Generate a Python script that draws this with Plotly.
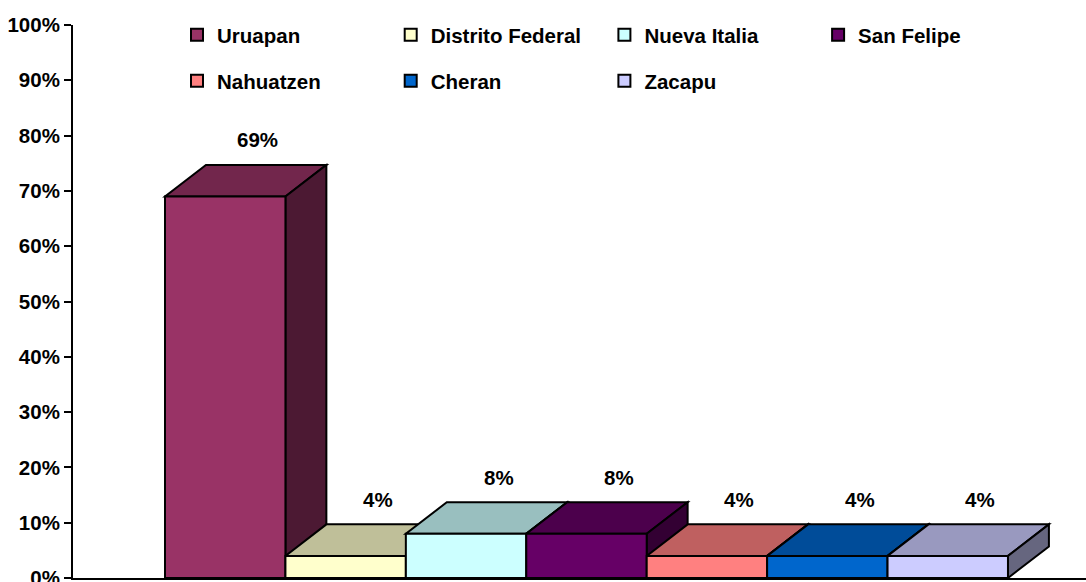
import plotly.graph_objects as go

# ---- data -------------------------------------------------------------
categories = ["Uruapan", "Distrito Federal", "Nueva Italia", "San Felipe",
              "Nahuatzen", "Cheran", "Zacapu"]
values = [69, 4, 8, 8, 4, 4, 4]
colors = ["#993366", "#FFFFCC", "#CCFFFF", "#660066", "#FF8080", "#0066CC", "#CCCCFF"]
y_tick_values = [0, 10, 20, 30, 40, 50, 60, 70, 80, 90, 100]
y_tick_labels = ["0%", "10%", "20%", "30%", "40%", "50%", "60%", "70%", "80%", "90%", "100%"]

# ---- 3D look parameters (in axis units) ---------------------------------
BAR_W = 1.0       # width of the front face
DEPTH_X = 0.34    # horizontal depth offset
DEPTH_Y = 5.7     # vertical depth offset (percent units)
FONT = "Liberation Sans"
FS = 20.5


def shade(hex_color, f):
    h = hex_color.lstrip("#")
    r, g, b = (int(h[k:k + 2], 16) for k in (0, 2, 4))
    return "rgb({},{},{})".format(int(r * f), int(g * f), int(b * f))


fig = go.Figure()

for i, (cat, v, c) in enumerate(zip(categories, values, colors)):
    fig.add_trace(go.Bar(
        x=[i], y=[v], width=BAR_W, name=cat,
        marker=dict(color=c, line=dict(color="black", width=2)),
        legend="legend" if i < 4 else "legend2",
        hovertemplate=cat + ": %{y}%<extra></extra>",
    ))
    x0, x1 = i - BAR_W / 2, i + BAR_W / 2
    top = "M {a},{v} L {b},{v} L {c},{w} L {d},{w} Z".format(
        a=x0, b=x1, c=x1 + DEPTH_X, d=x0 + DEPTH_X, v=v, w=v + DEPTH_Y)
    side = "M {a},0 L {b},{dy} L {b},{w} L {a},{v} Z".format(
        a=x1, b=x1 + DEPTH_X, dy=DEPTH_Y, v=v, w=v + DEPTH_Y)
    fig.add_shape(type="path", path=top, xref="x", yref="y", layer="below",
                  fillcolor=shade(c, 0.75), line=dict(color="black", width=2))
    fig.add_shape(type="path", path=side, xref="x", yref="y", layer="below",
                  fillcolor=shade(c, 0.5), line=dict(color="black", width=2))
    fig.add_annotation(x=i + 0.27, y=v + DEPTH_Y, text=f"{v}%", showarrow=False,
                       xanchor="center", yanchor="middle", yshift=25,
                       font=dict(family=FONT, size=FS, color="black", weight="bold"))

legend_common = dict(
    orientation="h", xref="container", yref="container",
    xanchor="left", yanchor="middle", entrywidth=168.7, entrywidthmode="pixels",
    bgcolor="rgba(0,0,0,0)", borderwidth=0, traceorder="normal",
    font=dict(family=FONT, size=FS, color="black", weight="bold"),
)

fig.update_layout(
    width=1086, height=582,
    template="none",
    margin=dict(l=73, r=0, t=25, b=4, autoexpand=False),
    paper_bgcolor="white", plot_bgcolor="white",
    font=dict(family=FONT, size=FS, color="black", weight="bold"),
    barmode="overlay",
    showlegend=True,
    legend=dict(x=177 / 1086, y=1 - 35 / 582, **legend_common),
    legend2=dict(x=177 / 1086, y=1 - 81 / 582, **legend_common),
    xaxis=dict(range=[-1.264, 7.148], showline=True, linecolor="black", linewidth=2,
               showticklabels=False, ticks="", showgrid=False, zeroline=False,
               automargin=False, fixedrange=True),
    yaxis=dict(range=[0, 100], tickvals=y_tick_values, ticktext=y_tick_labels,
               ticks="outside", ticklen=7, tickwidth=2, tickcolor="black",
               showline=True, linecolor="black", linewidth=2, showgrid=False,
               zeroline=False, automargin=False, fixedrange=True,
               ticklabeloverflow="allow",
               tickfont=dict(family=FONT, size=FS, color="black", weight="bold")),
)

fig.write_html(
    "out.html",
    config={"displayModeBar": False},
    post_script="document.body.style.margin='0px';document.body.style.overflow='hidden';",
)
